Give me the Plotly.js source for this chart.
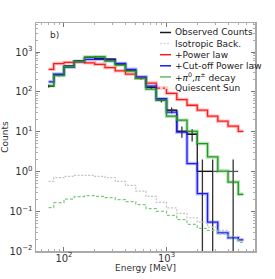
<!DOCTYPE html>
<html>
<head>
<meta charset="utf-8">
<script src="https://cdn.plot.ly/plotly-3.0.1.min.js"></script>
<style>html,body{margin:0;padding:0;background:#fff;}#chart{width:275px;height:279px;}</style>
</head>
<body>
<div id="chart"></div>
<script>
// Bin centres (MeV)
var energy = [70.8, 89.1, 112.2, 141.3, 177.8, 223.9, 281.8, 354.8, 446.7, 562.3,
              707.9, 891.3, 1122, 1413, 1778, 2239, 2818, 3548, 4467, 5623];
// Observed counts (null = no counts)
var observed = [140, 264, 444, 593, 735, 694, 667, 499, 352, 218,
                129, 61.8, 34.6, 10.2, 8.6, 1, 1, null, 1, null];
var isotropic = [0.564, 0.698, 0.753, 0.798, 0.798, 0.753, 0.698, 0.564, 0.447, 0.321,
                 0.236, 0.167, 0.121, 0.0881, 0.0685, 0.0531, 0.0398, 0.0328, 0.0232, 0.0184];
var powerLaw = [367, 513, 550, 570, 537, 490, 407, 338, 279, 221,
                166, 124, 91, 64, 46, 34.6, 24.4, 18.3, 13.7, 10.2];
var cutoffPL = [179, 279, 419, 576, 655, 655, 629, 519, 367, 239,
                139, 67.4, 30.8, 9.7, 1.57, 0.276, 0.053, 0.0287, 0.0215, 0.0191];
var pionDecay = [143, 256, 431, 576, 748, 762, 593, 471, 332, 218,
                 117, 61.8, 24.4, 19.4, 10.2, 5.0, 2.31, 1.02, 0.541, 0.265];
var quiescent = [0.1225, 0.1637, 0.2018, 0.2317, 0.2453, 0.236, 0.2188, 0.195, 0.1734, 0.1459,
                 0.1156, 0.0989, 0.0783, 0.0611, 0.0465, 0.0369, 0.0328, 0.0268, 0.0212, 0.0164];
var seriesNames = ['Observed Counts', 'Isotropic Back.', '+Power law', '+Cut-off Power law',
                   '+<i>π</i><sup>0</sup>,<i>π</i><sup>±</sup> decay', 'Quiescent Sun'];
var yTickVals = [0.01, 0.1, 1, 10, 100, 1000];
var yTickText = ['10<sup>−2</sup>', '10<sup>−1</sup>', '10<sup>0</sup>', '10<sup>1</sup>', '10<sup>2</sup>', '10<sup>3</sup>'];
var xTickVals = [100, 1000];
var xTickText = ['10<sup>2</sup>', '10<sup>3</sup>'];

// styles (per series, same order as seriesNames)
var lineStyles = [
  {color: '#1a1a1a', width: 1.3},
  {color: '#c4c4c4', width: 1.2, dash: '2px,1.5px'},
  {color: '#ff1a1a', width: 1.3},
  {color: '#1a1aff', width: 1.3},
  {color: '#229922', width: 1.3},
  {color: '#80c880', width: 1.2, dash: '3px,2px'}
];
var legendSampleColors = ['#1a1a1a', '#d8d8d8', '#ff1a1a', '#1a1aff', '#66bb66', '#e4f2e4'];
var seriesData = [observed, isotropic, powerLaw, cutoffPL, pionDecay, quiescent];

// half-bin widths (0.05 dex) for horizontal bars of the counts
var hw = Math.pow(10, 0.05);
var xerrPlus = energy.map(function (e, i) { return i === 0 ? 0 : e * (hw - 1); });
var xerrMinus = energy.map(function (e, i) { return i === 0 ? 0 : e * (1 - 1 / hw); });

function shadow(y, color) {
  return {x: energy, y: y, mode: 'lines', line: {shape: 'hvh', color: color, width: 3.5},
          opacity: 0.45, showlegend: false, hoverinfo: 'skip'};
}

var traces = [
  shadow(powerLaw, '#ff7070'),
  shadow(cutoffPL, '#7070ff'),
  shadow(pionDecay, '#66bb66')
];
seriesData.forEach(function (y, i) {
  var tr = {x: energy, y: y, mode: 'lines', name: seriesNames[i], showlegend: false,
            line: Object.assign({shape: 'hvh'}, lineStyles[i])};
  if (i === 0) {
    tr.error_y = {type: 'sqrt', visible: true, color: '#333', thickness: 1.3, width: 0};
    tr.error_x = {type: 'data', symmetric: false, array: xerrPlus, arrayminus: xerrMinus,
                  visible: true, color: '#555', thickness: 1.3, width: 0};
  }
  traces.push(tr);
});

// compact legend (matplotlib-like): short line sample + label per row
var plotL = 36, plotW = 219, plotB = 251, plotH = 228;
function px2x(p) { return (p - plotL) / plotW; }
function py2y(p) { return (plotB - p) / plotH; }
var shapes = [], annotations = [];
seriesNames.forEach(function (name, i) {
  var rowY = py2y(32.5 + 11.1 * i);
  var st = lineStyles[i];
  shapes.push({type: 'line', xref: 'paper', yref: 'paper', x0: px2x(160), x1: px2x(171),
               y0: rowY, y1: rowY,
               line: {color: legendSampleColors[i], width: 1.5, dash: st.dash ? st.dash : 'solid'}});
  annotations.push({text: name, xref: 'paper', yref: 'paper', x: px2x(174), y: rowY,
                    xanchor: 'left', yanchor: 'middle', showarrow: false, borderpad: 0,
                    font: {family: 'DejaVu Sans', size: 9, color: '#222'}});
});
annotations.push({text: 'b)', xref: 'paper', yref: 'paper', x: px2x(49), y: py2y(35),
                  xanchor: 'left', yanchor: 'middle', showarrow: false, borderpad: 0,
                  font: {family: 'DejaVu Sans', size: 9, color: '#333'}});

var axisCommon = {
  showline: true, linecolor: '#aaa', linewidth: 1.5, mirror: 'ticks',
  ticks: 'inside', ticklen: 4, tickcolor: '#777', tickwidth: 1,
  showgrid: false, zeroline: false,
  tickfont: {family: 'DejaVu Sans', size: 10, color: '#333'},
  minor: {dtick: 'D1', ticks: 'inside', ticklen: 2, tickcolor: '#999', tickwidth: 0.8}
};

var layout = {
  width: 275, height: 279,
  margin: {l: 36, r: 20, t: 23, b: 28},
  paper_bgcolor: '#fff', plot_bgcolor: '#fff',
  font: {family: 'DejaVu Sans', color: '#333'},
  showlegend: false,
  xaxis: Object.assign({}, axisCommon, {
    type: 'log', range: [1.727, 3.863],
    tickmode: 'array', tickvals: xTickVals, ticktext: xTickText,
    ticklabelstandoff: -3,
    title: {text: 'Energy [MeV]', font: {family: 'DejaVu Sans', size: 9, color: '#333'}, standoff: 0}
  }),
  yaxis: Object.assign({}, axisCommon, {
    type: 'log', range: [-2, 3.73],
    tickmode: 'array', tickvals: yTickVals, ticktext: yTickText,
    title: {text: 'Counts', font: {family: 'DejaVu Sans', size: 9, color: '#333'}, standoff: 2}
  }),
  shapes: shapes,
  annotations: annotations
};

Plotly.newPlot('chart', traces, layout, {displayModeBar: false, staticPlot: true});
</script>
</body>
</html>
